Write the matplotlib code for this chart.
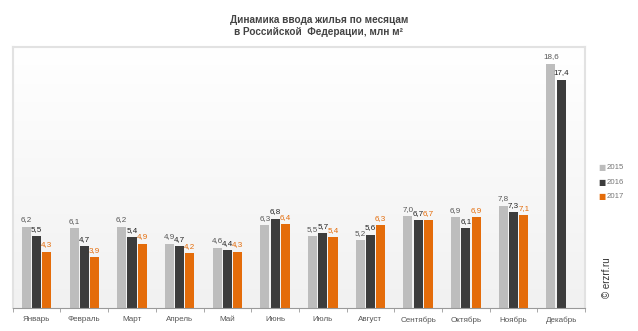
import matplotlib.pyplot as plt
import numpy as np

# Housing commissioning by month, mln m2
months = ['Январь', 'Февраль', 'Март', 'Апрель', 'Май', 'Июнь',
          'Июль', 'Август', 'Сентябрь', 'Октябрь', 'Ноябрь', 'Декабрь']
v2015 = [6.2, 6.1, 6.2, 4.9, 4.6, 6.3, 5.5, 5.2, 7.0, 6.9, 7.8, 18.6]
v2016 = [5.5, 4.7, 5.4, 4.7, 4.4, 6.8, 5.7, 5.6, 6.7, 6.1, 7.3, 17.4]
v2017 = [4.3, 3.9, 4.9, 4.2, 4.3, 6.4, 5.4, 6.3, 6.7, 6.9, 7.1, None]
years = ['2015', '2016', '2017']

bar_colors = ['#bdbdbd', '#3c3c3c', '#e46c0a']
label_colors = ['#555555', '#222222', '#e46c0a']

plt.rcParams['font.family'] = ['Liberation Sans', 'DejaVu Sans']

fig = plt.figure(figsize=(6.38, 3.31), dpi=100)
ax = fig.add_axes([0.020, 0.069, 0.897, 0.79])

# soft gradient background: white at the top, light gray at the base
grad = np.linspace(0.0, 1.0, 256).reshape(-1, 1)
ax.imshow(grad, extent=[-0.5, 11.5, 0, 19.9], aspect='auto',
          cmap=plt.matplotlib.colors.LinearSegmentedColormap.from_list(
              'bg', ['#ffffff', '#f1f1f1']), zorder=0)

x = np.arange(len(months))
w = 0.19
step = 0.215
for i, vals in enumerate([v2015, v2016, v2017]):
    xs = [xi + (i - 1) * step for xi, v in zip(x, vals) if v is not None]
    hs = [v for v in vals if v is not None]
    ax.bar(xs, hs, width=w, color=bar_colors[i], zorder=2)
    for xi, h in zip(xs, hs):
        ax.text(xi, h + 0.25, ('%.1f' % h).replace('.', ','),
                ha='center', va='bottom', fontsize=5.8,
                color=label_colors[i], zorder=3)

ax.set_xlim(-0.5, 11.5)
ax.set_ylim(0, 19.9)
ax.set_yticks([])
ax.set_xticks(x)
ax.set_xticklabels(months, fontsize=5.8, color='#555555')
ax.tick_params(axis='x', length=0, pad=6)
ax.set_xticks(np.arange(-0.5, 12, 1), minor=True)
ax.tick_params(axis='x', which='minor', length=3, color='#999999')

for side in ['top', 'left', 'right']:
    ax.spines[side].set_color('#e2e2e2')
    ax.spines[side].set_linewidth(1.5)
ax.spines['bottom'].set_color('#999999')
ax.spines['bottom'].set_linewidth(0.8)

fig.text(0.5, 0.955, 'Динамика ввода жилья по месяцам\nв Российской  Федерации, млн м²',
         ha='center', va='top', fontsize=7.2, fontweight='bold',
         color='#444444', linespacing=1.25)

# legend outside the plot area on the right
for i, yr in enumerate(years):
    yy = 0.495 - i * 0.045
    fig.text(0.944, yy, '■', color=bar_colors[i], fontsize=5.5,
             ha='center', va='center', family='DejaVu Sans')
    fig.text(0.951, yy, yr, color='#777777', fontsize=5.6, va='center')

fig.text(0.952, 0.16, '© erzrf.ru', rotation=90, fontsize=7,
         color='#333333', ha='center', va='center')

fig.savefig('out.png', dpi=100)
